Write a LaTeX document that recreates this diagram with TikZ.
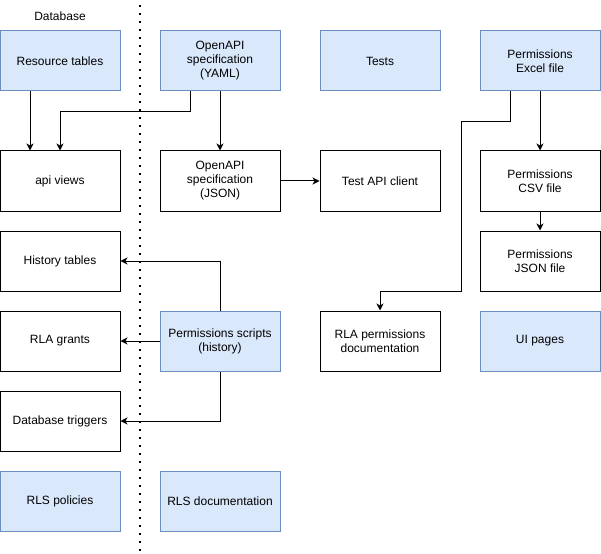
\documentclass[tikz,border=0pt]{standalone}
\usepackage{fontspec}
\setmainfont{Liberation Sans}
\usetikzlibrary{arrows.meta}
\definecolor{bfill}{HTML}{DAE8FC}
\definecolor{bdraw}{HTML}{6C8EBF}
\tikzset{
  box/.style={rectangle, minimum width=120pt, minimum height=60pt, inner sep=0pt, align=center, line width=1pt, font=\fontsize{12}{14}\selectfont},
  wbox/.style={box, draw=black, fill=white},
  bbox/.style={box, draw=bdraw, fill=bfill},
  arr/.style={line width=1pt, -{Stealth[length=7pt,width=7pt,inset=2pt]}},
  conn/.style={line width=1pt}
}
\begin{document}
\begin{tikzpicture}[x=1pt,y=-1pt]
\useasboundingbox (0,0) rectangle (601,553);
\fill[white] (0,0) rectangle (601,553);
% dotted separator
\coordinate (dtop) at (140,5);
\coordinate (dbot) at (140,553);
\draw[line width=1.6pt, dash pattern=on 1.6pt off 6.4pt] (dtop) -- (dbot);
\node[font=\fontsize{12}{14}\selectfont] (dblabel) at (60,16) {Database};
% row 1
\node[bbox] (res) at (60,61) {Resource tables};
\node[bbox] (yaml) at (220,61) {OpenAPI\\specification\\(YAML)};
\node[bbox] (tests) at (380,61) {Tests};
\node[bbox] (xl) at (540,61) {Permissions\\Excel file};
% row 2
\node[wbox] (api) at (60,181) {api views};
\node[wbox] (json) at (220,181) {OpenAPI\\specification\\(JSON)};
\node[wbox] (tac) at (380,181) {Test API client};
\node[wbox] (csv) at (540,181) {Permissions\\CSV file};
% row 3
\node[wbox] (hist) at (60,261) {History tables};
\node[wbox] (pjson) at (540,261) {Permissions\\JSON file};
% row 4
\node[wbox] (rlag) at (60,341) {RLA grants};
\node[bbox] (ps) at (220,341) {Permissions scripts\\(history)};
\node[wbox] (rlap) at (380,341) {RLA permissions\\documentation};
\node[bbox] (ui) at (540,341) {UI pages};
% row 5
\node[wbox] (trig) at (60,421) {Database triggers};
% row 6
\node[bbox] (rlsp) at (60,501) {RLS policies};
\node[bbox] (rlsd) at (220,501) {RLS documentation};
% connectors
\draw[arr] ([xshift=-30pt]res.south) -- ([xshift=-30pt]api.north);
\draw[arr] ([xshift=-30pt]yaml.south) -- ++(0,20) -| (api.north);
\draw[arr] (yaml.south) -- (json.north);
\draw[arr] (json.east) -- (tac.west);
\draw[arr] ([xshift=-30pt]xl.south) -- ++(0,30) -- ++(-49,0) -- ++(0,170) -| (rlap.north);
\draw[arr] (xl.south) -- (csv.north);
\draw[arr] (csv.south) -- (pjson.north);
\draw[arr] (ps.north) |- (hist.east);
\draw[arr] (ps.west) -- (rlag.east);
\draw[arr] (ps.south) |- (trig.east);
\end{tikzpicture}
\end{document}
